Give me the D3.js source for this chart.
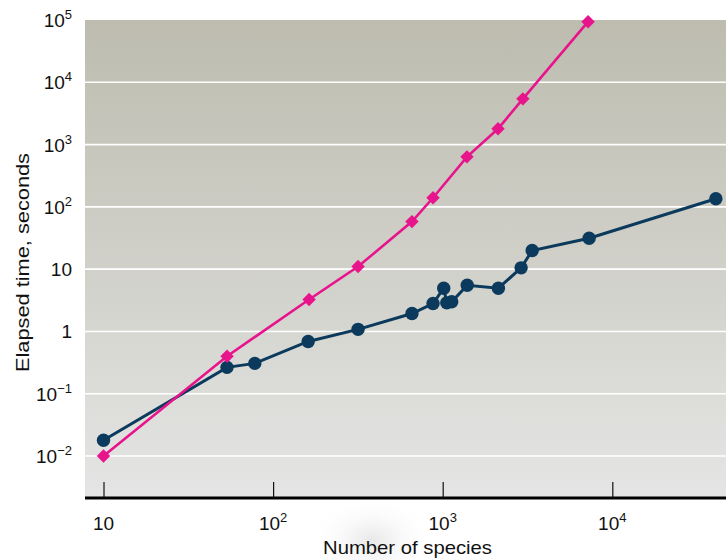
<!DOCTYPE html>
<html>
<head>
<meta charset="utf-8">
<script src="https://cdn.jsdelivr.net/npm/d3@7"></script>
<style>
  html, body { margin: 0; padding: 0; background: #fff; }
  svg { display: block; }
  text { font-family: "Liberation Sans", Arial, Helvetica, sans-serif; fill: #111; }
</style>
</head>
<body>
<svg id="chart" width="726" height="560"></svg>
<script>
// ---- data ----
const navyX = [10, 53.5, 78, 161, 317, 659, 877, 1014, 1057, 1130, 1395, 2130, 2900, 3370, 7300, 40800];
const navyY = [0.0179, 0.265, 0.307, 0.69, 1.08, 1.94, 2.81, 4.94, 2.88, 2.99, 5.52, 4.94, 10.5, 19.9, 31.3, 135];
const pinkX = [10, 53.5, 163, 317, 659, 877, 1390, 2120, 2970, 7200];
const pinkY = [0.01, 0.40, 3.26, 11, 58, 140, 635, 1790, 5420, 94000];

const xTickValues = [10, 100, 1000, 10000];
const xTickBase = ["10", "10", "10", "10"];
const xTickExp = ["", "2", "3", "4"];

const yTickValues = [0.01, 0.1, 1, 10, 100, 1000, 10000, 100000];
const yTickBase = ["10", "10", "1", "10", "10", "10", "10", "10"];
const yTickExp = ["\u22122", "\u22121", "", "", "2", "3", "4", "5"];

const xTitle = "Number of species";
const yTitle = "Elapsed time, seconds";

// ---- layout ----
const pLeft = 85, pRight = 726, pTop = 20, pBottom = 498;
const svg = d3.select("#chart");

const x = d3.scaleLog()
  .domain([Math.pow(10, 0.8909), Math.pow(10, 4.6704)])
  .range([pLeft, pRight]);
const y = d3.scaleLog()
  .domain([Math.pow(10, -2.674), Math.pow(10, 5)])
  .range([pBottom, pTop]);

const defs = svg.append("defs");
const bg = defs.append("linearGradient").attr("id", "bg")
  .attr("x1", 0).attr("y1", 0).attr("x2", 0).attr("y2", 1);
bg.append("stop").attr("offset", "0%").attr("stop-color", "#bdbcaf");
bg.append("stop").attr("offset", "50%").attr("stop-color", "#d0d0c9");
bg.append("stop").attr("offset", "100%").attr("stop-color", "#e5e5e5");

const shadow = defs.append("radialGradient").attr("id", "shadow");
shadow.append("stop").attr("offset", "0%").attr("stop-color", "#d4d4d4").attr("stop-opacity", 0.55);
shadow.append("stop").attr("offset", "100%").attr("stop-color", "#ffffff").attr("stop-opacity", 0);

// faint shadow blob below axis
svg.append("ellipse")
  .attr("cx", 372).attr("cy", 540).attr("rx", 62).attr("ry", 45)
  .attr("fill", "url(#shadow)");

// plot background
svg.append("rect")
  .attr("x", pLeft).attr("y", pTop)
  .attr("width", pRight - pLeft).attr("height", pBottom - pTop)
  .attr("fill", "url(#bg)");

// gridlines
svg.append("g").selectAll("line")
  .data(yTickValues.filter(v => v < 1e5))
  .join("line")
  .attr("x1", pLeft).attr("x2", pRight)
  .attr("y1", d => y(d)).attr("y2", d => y(d))
  .attr("stroke", "#ffffff").attr("stroke-width", 1.6);

// x axis with ticks pointing up
const xAxis = d3.axisBottom(x)
  .tickValues(xTickValues)
  .tickSize(-16)
  .tickSizeOuter(0)
  .tickFormat("");
const gx = svg.append("g").attr("transform", `translate(0,${pBottom})`).call(xAxis);
gx.select(".domain").remove();
gx.selectAll(".tick line").attr("stroke", "#111").attr("stroke-width", 1.2);
svg.append("line")
  .attr("x1", pLeft).attr("x2", pRight)
  .attr("y1", pBottom).attr("y2", pBottom)
  .attr("stroke", "#000").attr("stroke-width", 3.2);

// x tick labels
const xl = svg.append("g").selectAll("text")
  .data(xTickValues)
  .join("text")
  .attr("x", d => x(d))
  .attr("y", 530)
  .attr("text-anchor", "middle")
  .attr("font-size", 19);
xl.append("tspan").text((d, i) => xTickBase[i]);
xl.append("tspan").attr("font-size", 13).attr("dy", -8).text((d, i) => xTickExp[i]);

// y tick labels
const yl = svg.append("g").selectAll("text")
  .data(yTickValues)
  .join("text")
  .attr("x", 72)
  .attr("y", d => y(d) + 7)
  .attr("text-anchor", "end")
  .attr("font-size", 19);
yl.append("tspan").text((d, i) => yTickBase[i]);
yl.append("tspan").attr("font-size", 13).attr("dy", -8).text((d, i) => yTickExp[i]);

// titles
svg.append("text")
  .attr("x", 323).attr("y", 554)
  .attr("font-size", 19)
  .attr("textLength", 169).attr("lengthAdjust", "spacingAndGlyphs")
  .text(xTitle);
svg.append("text")
  .attr("transform", "translate(29,372) rotate(-90)")
  .attr("font-size", 19)
  .attr("textLength", 219).attr("lengthAdjust", "spacingAndGlyphs")
  .text(yTitle);

// series
const navy = navyX.map((v, i) => [v, navyY[i]]);
const pink = pinkX.map((v, i) => [v, pinkY[i]]);
const line = d3.line().x(d => x(d[0])).y(d => y(d[1]));

svg.append("path").datum(navy)
  .attr("d", line).attr("fill", "none")
  .attr("stroke", "#0b3a5d").attr("stroke-width", 3);
svg.append("g").selectAll("circle").data(navy).join("circle")
  .attr("cx", d => x(d[0])).attr("cy", d => y(d[1]))
  .attr("r", 6.7).attr("fill", "#0b3a5d");

svg.append("path").datum(pink)
  .attr("d", line).attr("fill", "none")
  .attr("stroke", "#e8148c").attr("stroke-width", 2.6);
const diamond = d3.symbol().type(d3.symbolSquare).size(90);
svg.append("g").selectAll("path").data(pink).join("path")
  .attr("d", diamond)
  .attr("transform", d => `translate(${x(d[0])},${y(d[1])}) rotate(45)`)
  .attr("fill", "#e8148c");
</script>
</body>
</html>
